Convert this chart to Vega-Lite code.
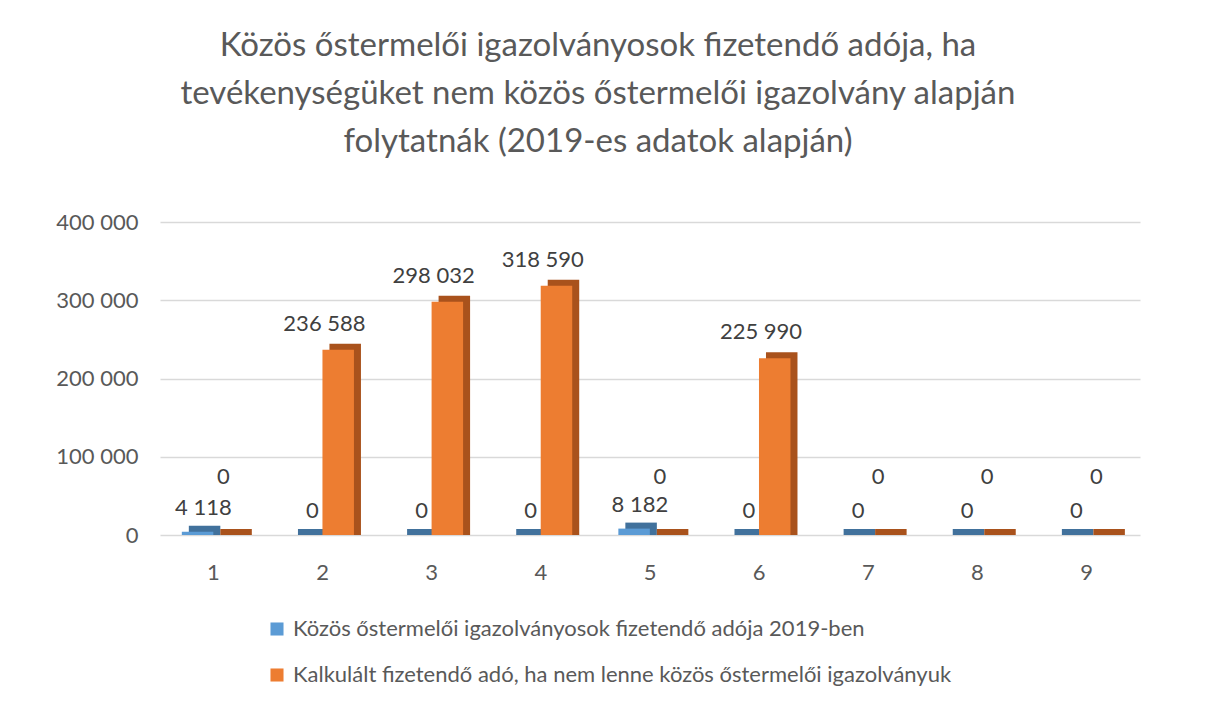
{
  "$schema": "https://vega.github.io/schema/vega-lite/v6.json",
  "width": 980,
  "height": 313,
  "autosize": "none",
  "padding": {"left": 160, "top": 222, "right": 66, "bottom": 169},
  "background": "white",
  "config": {
    "font": "Lato",
    "view": {"stroke": null},
    "locale": {"number": {"decimal": ",", "thousands": " ", "grouping": [3], "currency": ["", ""]}}
  },
  "title": {
    "text": ["Közös őstermelői igazolványosok fizetendő adója, ha", "tevékenységüket nem közös őstermelői igazolvány alapján", "folytatnák (2019-es adatok alapján)"],
    "fontSize": 33,
    "fontWeight": "normal",
    "color": "#595959",
    "lineHeight": 48,
    "anchor": "middle",
    "dx": -52,
    "offset": 52
  },
  "data": {
    "values": [
      {"cat": "1", "series": "Közös őstermelői igazolványosok fizetendő adója 2019-ben", "s": 1, "value": 4118},
      {"cat": "1", "series": "Kalkulált fizetendő adó, ha nem lenne közös őstermelői igazolványuk", "s": 2, "value": 0},
      {"cat": "2", "series": "Közös őstermelői igazolványosok fizetendő adója 2019-ben", "s": 1, "value": 0},
      {"cat": "2", "series": "Kalkulált fizetendő adó, ha nem lenne közös őstermelői igazolványuk", "s": 2, "value": 236588},
      {"cat": "3", "series": "Közös őstermelői igazolványosok fizetendő adója 2019-ben", "s": 1, "value": 0},
      {"cat": "3", "series": "Kalkulált fizetendő adó, ha nem lenne közös őstermelői igazolványuk", "s": 2, "value": 298032},
      {"cat": "4", "series": "Közös őstermelői igazolványosok fizetendő adója 2019-ben", "s": 1, "value": 0},
      {"cat": "4", "series": "Kalkulált fizetendő adó, ha nem lenne közös őstermelői igazolványuk", "s": 2, "value": 318590},
      {"cat": "5", "series": "Közös őstermelői igazolványosok fizetendő adója 2019-ben", "s": 1, "value": 8182},
      {"cat": "5", "series": "Kalkulált fizetendő adó, ha nem lenne közös őstermelői igazolványuk", "s": 2, "value": 0},
      {"cat": "6", "series": "Közös őstermelői igazolványosok fizetendő adója 2019-ben", "s": 1, "value": 0},
      {"cat": "6", "series": "Kalkulált fizetendő adó, ha nem lenne közös őstermelői igazolványuk", "s": 2, "value": 225990},
      {"cat": "7", "series": "Közös őstermelői igazolványosok fizetendő adója 2019-ben", "s": 1, "value": 0},
      {"cat": "7", "series": "Kalkulált fizetendő adó, ha nem lenne közös őstermelői igazolványuk", "s": 2, "value": 0},
      {"cat": "8", "series": "Közös őstermelői igazolványosok fizetendő adója 2019-ben", "s": 1, "value": 0},
      {"cat": "8", "series": "Kalkulált fizetendő adó, ha nem lenne közös őstermelői igazolványuk", "s": 2, "value": 0},
      {"cat": "9", "series": "Közös őstermelői igazolványosok fizetendő adója 2019-ben", "s": 1, "value": 0},
      {"cat": "9", "series": "Kalkulált fizetendő adó, ha nem lenne közös őstermelői igazolványuk", "s": 2, "value": 0}
    ]
  },
  "encoding": {
    "x": {
      "field": "cat", "type": "nominal", "title": null,
      "scale": {"paddingInner": 0.42, "paddingOuter": 0.2},
      "axis": {"labelAngle": 0, "labelFontSize": 22, "labelColor": "#595959", "labelPadding": 27, "domain": false, "ticks": false}
    },
    "y": {
      "field": "value", "type": "quantitative", "title": null,
      "scale": {"domain": [0, 400000]},
      "axis": {"values": [0, 100000, 200000, 300000, 400000], "format": ",d", "labelFontSize": 22, "labelColor": "#595959", "labelPadding": 22, "domain": false, "ticks": false, "gridColor": "#D9D9D9", "gridWidth": 1.5}
    }
  },
  "layer": [
    {
      "mark": {"type": "bar", "yOffset": -6, "y2Offset": 0},
      "encoding": {
        "y2": {"datum": 0},
        "xOffset": {"field": "s", "type": "nominal", "sort": [1, 2], "scale": {"range": [7, 70]}},
        "color": {
          "field": "s", "type": "nominal", "legend": null,
          "scale": {"domain": [1, 2], "range": ["#41719C", "#A9521C"]}
        }
      }
    },
    {
      "mark": {"type": "bar"},
      "encoding": {
        "xOffset": {"field": "s", "type": "nominal", "sort": [1, 2], "scale": {"range": [0, 63]}},
        "color": {
          "field": "series", "type": "nominal",
          "sort": ["Közös őstermelői igazolványosok fizetendő adója 2019-ben", "Kalkulált fizetendő adó, ha nem lenne közös őstermelői igazolványuk"],
          "scale": {"domain": ["Közös őstermelői igazolványosok fizetendő adója 2019-ben", "Kalkulált fizetendő adó, ha nem lenne közös őstermelői igazolványuk"], "range": ["#5B9BD5", "#ED7D31"]},
          "legend": {
            "title": null, "orient": "none", "legendX": 106, "legendY": 396, "direction": "vertical",
            "symbolType": "square", "symbolSize": 170, "symbolStrokeWidth": 0,
            "labelFontSize": 22, "labelColor": "#595959", "labelLimit": 900, "rowPadding": 24, "labelOffset": 5
          }
        }
      }
    },
    {
      "transform": [{"filter": "datum.s == 1"}],
      "mark": {"type": "text", "fontSize": 22, "color": "#404040", "baseline": "bottom", "dx": -10, "dy": -12},
      "encoding": {
        "xOffset": {"field": "s", "type": "nominal", "sort": [1, 2], "scale": {"range": [0, 63]}},
        "text": {"field": "value", "type": "quantitative", "format": ",d"}
      }
    },
    {
      "transform": [{"filter": "datum.s == 2 && datum.value > 0"}],
      "mark": {"type": "text", "fontSize": 22, "color": "#404040", "baseline": "bottom", "dx": 2, "dy": -14},
      "encoding": {
        "xOffset": {"field": "s", "type": "nominal", "sort": [1, 2], "scale": {"range": [0, 63]}},
        "text": {"field": "value", "type": "quantitative", "format": ",d"}
      }
    },
    {
      "transform": [{"filter": "datum.s == 2 && datum.value == 0"}],
      "mark": {"type": "text", "fontSize": 22, "color": "#404040", "baseline": "bottom", "dx": 10, "dy": -46},
      "encoding": {
        "xOffset": {"field": "s", "type": "nominal", "sort": [1, 2], "scale": {"range": [0, 63]}},
        "text": {"field": "value", "type": "quantitative", "format": ",d"}
      }
    }
  ],
  "resolve": {"scale": {"color": "independent", "xOffset": "independent"}, "legend": {"color": "independent"}}
}
